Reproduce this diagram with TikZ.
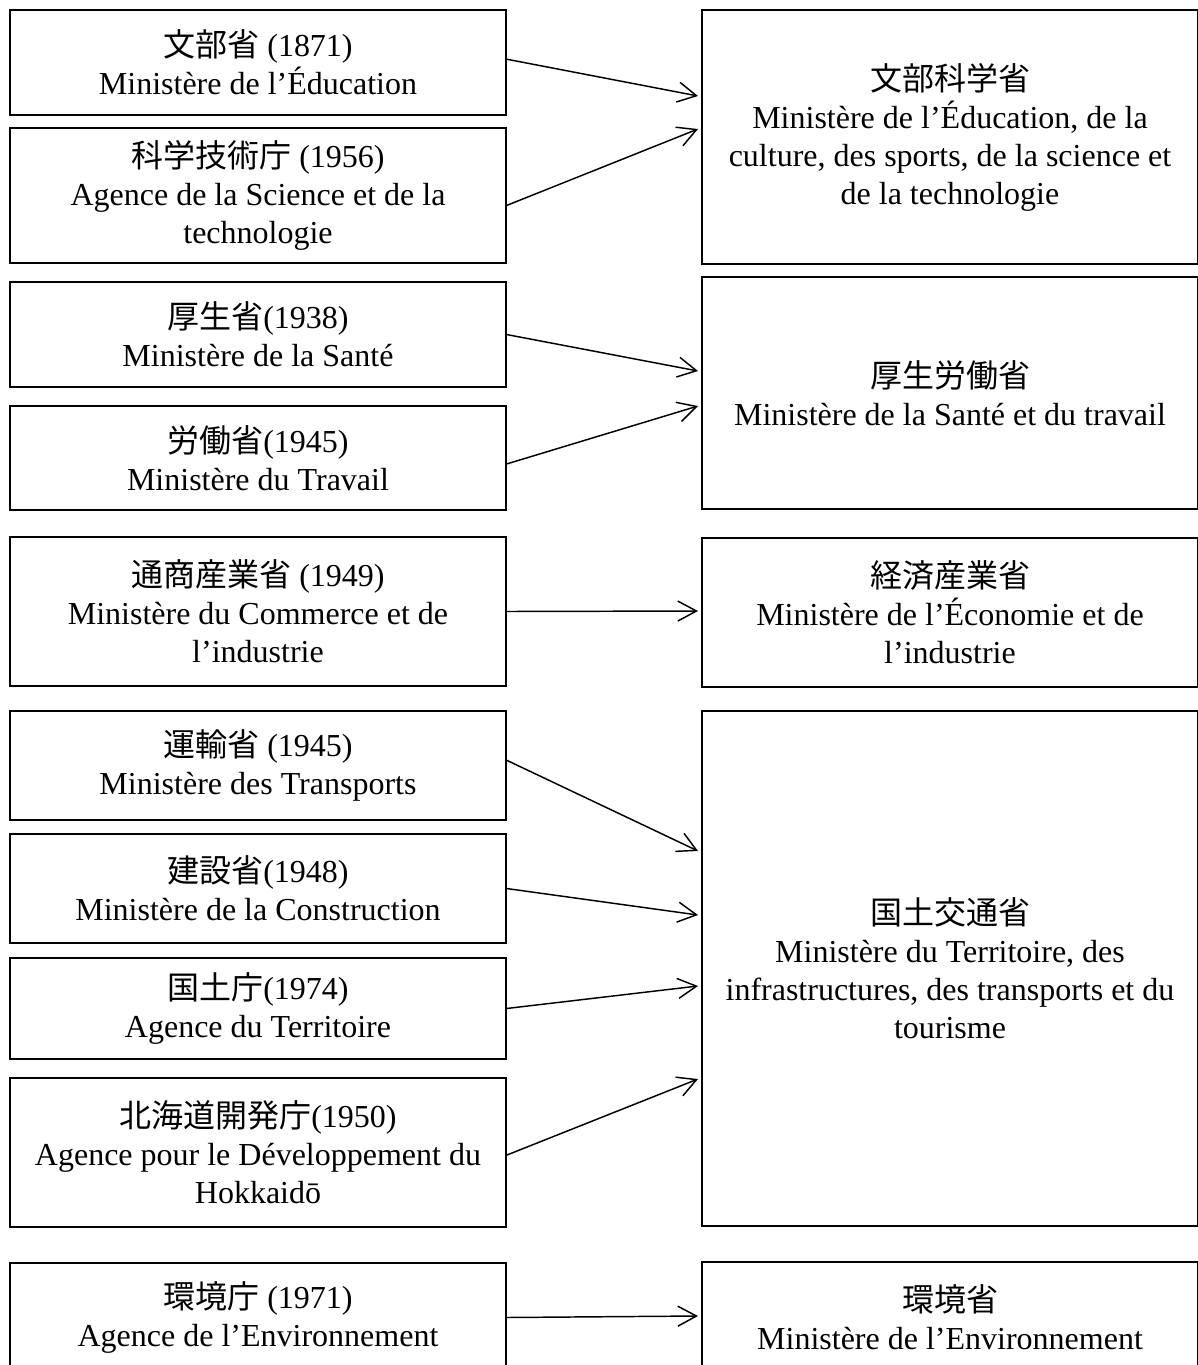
\documentclass[tikz,border=0pt]{standalone}
\usepackage{fontspec}
\setmainfont{Liberation Serif}
\newfontfamily\cjk{Noto Sans CJK JP}
\usetikzlibrary{arrows.meta}
\tikzset{
  ministry/.style={draw, line width=0.8pt, minimum width=372pt, inner sep=0pt,
    align=center, font=\fontsize{24pt}{28.5pt}\selectfont},
  merge/.style={line width=1.1pt, -{Straight Barb[length=14pt,width=15pt,line width=1.1pt]}}
}
\begin{document}
\begin{tikzpicture}[x=0.75pt, y=-0.75pt]
    \useasboundingbox (0,0) rectangle (1198,1365);
    % anciens ministeres et agences
    \node[ministry, minimum height=78.75pt]  (b1)  at (258,62.5)   {{\cjk 文部省} (1871)\\Ministère de l’Éducation};
    \node[ministry, minimum height=101.25pt] (b2)  at (258,195.5)  {{\cjk 科学技術庁} (1956)\\Agence de la Science et de la\\technologie};
    \node[ministry, minimum height=78.75pt]  (b3)  at (258,334.5)  {{\cjk 厚生省}(1938)\\Ministère de la Santé};
    \node[ministry, minimum height=78pt]     (b4)  at (258,458)    {{\cjk 労働省}(1945)\\Ministère du Travail};
    \node[ministry, minimum height=111.75pt] (b5)  at (258,611.5)  {{\cjk 通商産業省} (1949)\\Ministère du Commerce et de\\l’industrie};
    \node[ministry, minimum height=81.75pt]  (b6)  at (258,765.5)  {{\cjk 運輸省} (1945)\\Ministère des Transports};
    \node[ministry, minimum height=81.75pt]  (b7)  at (258,888.5)  {{\cjk 建設省}(1948)\\Ministère de la Construction};
    \node[ministry, minimum height=75.75pt]  (b8)  at (258,1008.5) {{\cjk 国土庁}(1974)\\Agence du Territoire};
    \node[ministry, minimum height=111.75pt] (b9)  at (258,1152.5) {{\cjk 北海道開発庁}(1950)\\Agence pour le Développement du\\Hokkaidō};
    \node[ministry, minimum height=81.75pt]  (b10) at (258,1317.5) {{\cjk 環境庁} (1971)\\Agence de l’Environnement};
    % ministeres de 2001
    \node[ministry, minimum height=190.5pt]  (n1) at (950,137)    {{\cjk 文部科学省}\\Ministère de l’Éducation, de la\\culture, des sports, de la science et\\de la technologie};
    \node[ministry, minimum height=174pt]    (n2) at (950,393)    {{\cjk 厚生労働省}\\Ministère de la Santé et du travail};
    \node[ministry, minimum height=111.75pt] (n3) at (950,612.5)  {{\cjk 経済産業省}\\Ministère de l’Économie et de\\l’industrie};
    \node[ministry, minimum height=386.25pt] (n4) at (950,968.5)  {{\cjk 国土交通省}\\Ministère du Territoire, des\\infrastructures, des transports et du\\tourisme};
    \node[ministry, minimum height=82.5pt]   (n5) at (950,1317)   {{\cjk 環境省}\\Ministère de l’Environnement};
    % pointes des fleches
    \coordinate (e1) at (698,96);
    \coordinate (e2) at (698,129);
    \coordinate (e3) at (698,371);
    \coordinate (e4) at (698,406);
    \coordinate (e5) at (698,611);
    \coordinate (e6) at (698,851);
    \coordinate (e7) at (698,915);
    \coordinate (e8) at (698,986);
    \coordinate (e9) at (698,1079);
    \coordinate (e10) at (698,1316);
    \draw[merge] ([yshift=2.5pt]b1.east) -- (e1);
    \draw[merge] ([yshift=-7.5pt]b2.east) -- (e2);
    \draw[merge] (b3.east) -- (e3);
    \draw[merge] ([yshift=-4.5pt]b4.east) -- (e4);
    \draw[merge] (b5.east) -- (e5);
    \draw[merge] ([yshift=4pt]b6.east) -- (e6);
    \draw[merge] (b7.east) -- (e7);
    \draw[merge] (b8.east) -- (e8);
    \draw[merge] ([yshift=-2pt]b9.east) -- (e9);
    \draw[merge] (b10.east) -- (e10);
\end{tikzpicture}
\end{document}
